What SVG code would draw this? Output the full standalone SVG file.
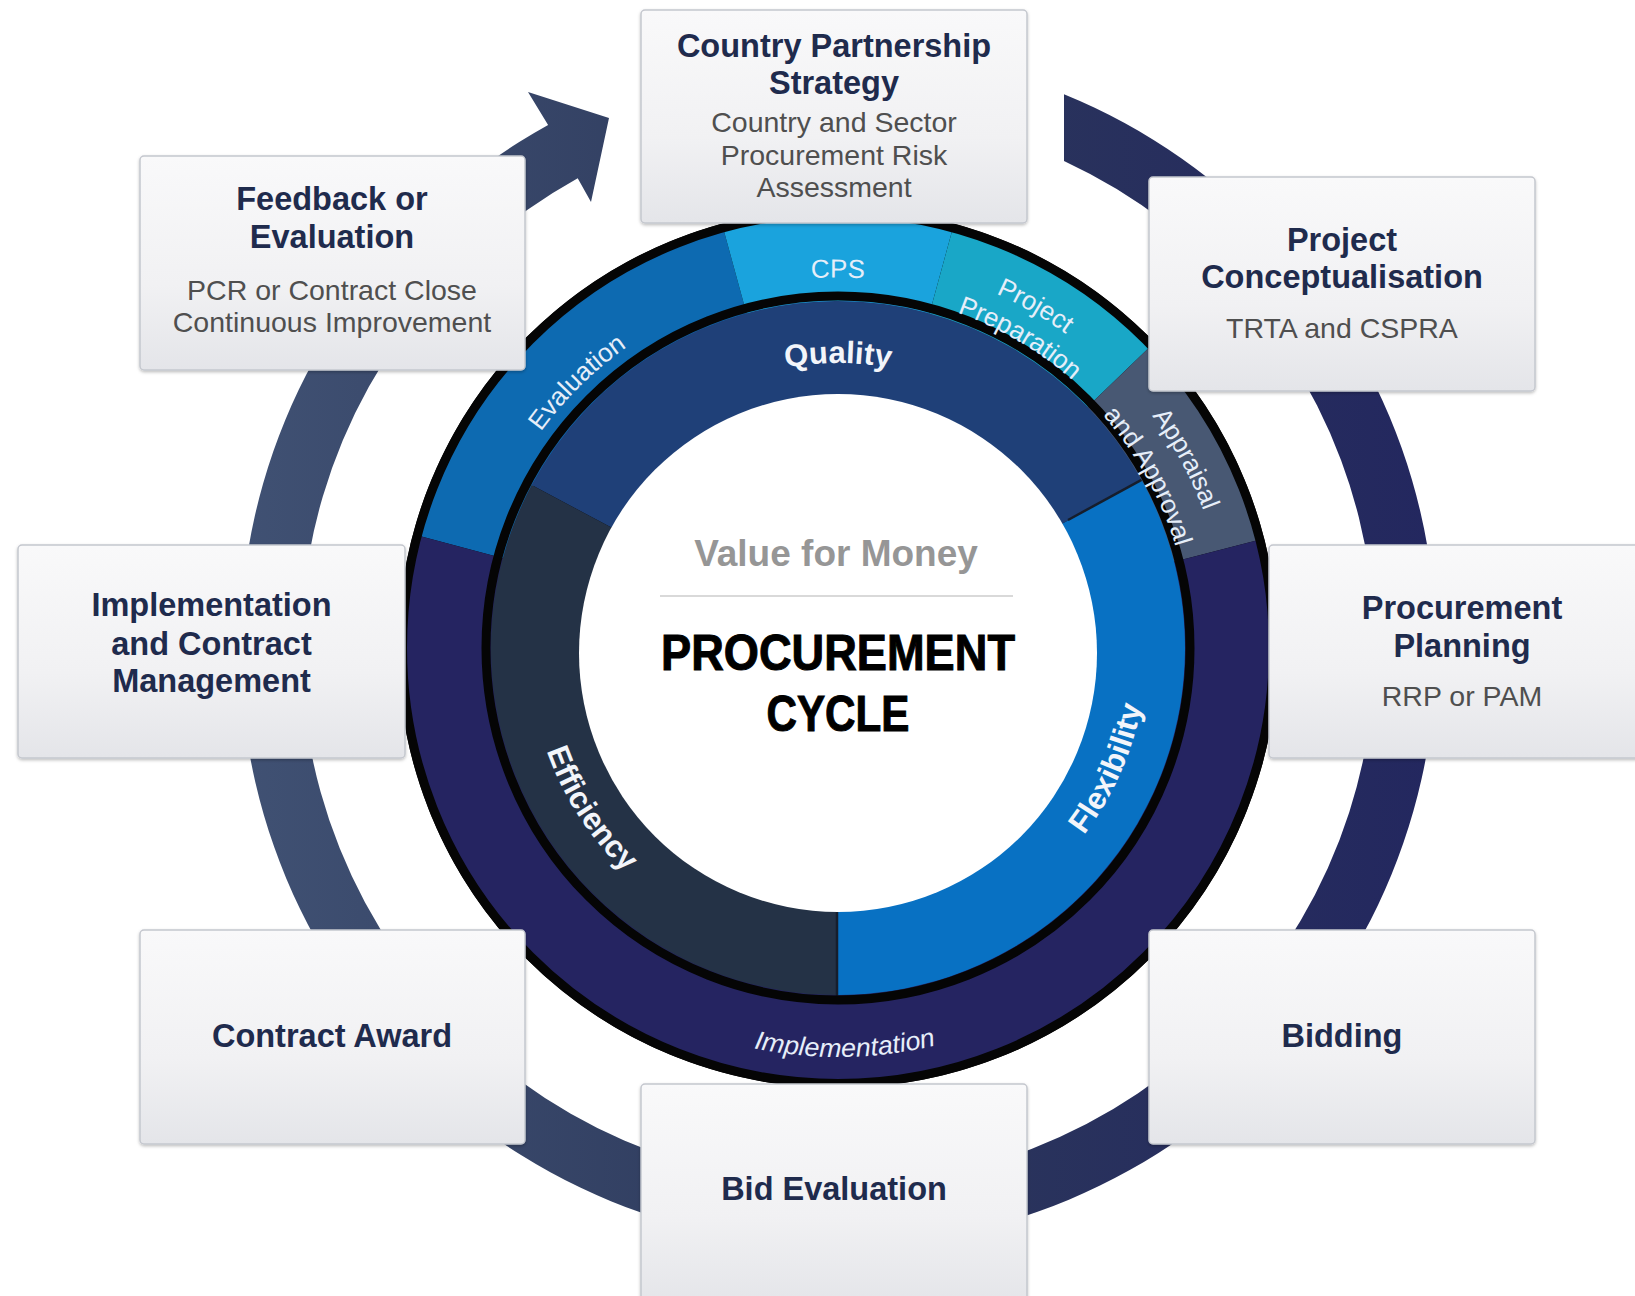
<svg xmlns="http://www.w3.org/2000/svg" width="1635" height="1296" viewBox="0 0 1635 1296">
<defs>
<linearGradient id="ringGrad" gradientUnits="userSpaceOnUse" x1="1440" y1="0" x2="240" y2="0">
<stop offset="0" stop-color="#23275f"/>
<stop offset="0.5" stop-color="#2c385b"/>
<stop offset="1" stop-color="#405173"/>
</linearGradient>
<linearGradient id="boxGrad" x1="0" y1="0" x2="0" y2="1">
<stop offset="0" stop-color="#f9f9fa"/>
<stop offset="0.6" stop-color="#f1f1f3"/>
<stop offset="1" stop-color="#e4e5e9"/>
</linearGradient>
<filter id="shadow" x="-5%" y="-5%" width="110%" height="115%">
<feDropShadow dx="0" dy="1.5" stdDeviation="1.5" flood-color="#000" flood-opacity="0.25"/>
</filter>
<path id="pCPS" d="M517.1,462.75 A370.5,370.5 0 0 1 1158.9,462.75"/>
<path id="pEval" d="M482.2,740 A367.5,367.5 0 0 1 936.2,293.9"/>
<path id="pProj" d="M644,312 A388,388 0 0 1 1226,648"/>
<path id="pPrep" d="M662.2,338.5 A356,356 0 0 1 1194,650.5"/>
<path id="pAppr" d="M848.2,257.6 A390.5,390.5 0 0 1 1170.9,852"/>
<path id="pAndA" d="M844.2,295.6 A352.5,352.5 0 0 1 1140.2,829.5"/>
<path id="pQual" d="M591.2,505.5 A285,285 0 0 1 1084.8,505.5"/>
<path id="pEff" d="M562.7,507.7 A309,309 0 0 0 854.2,956.6"/>
<path id="pFlex" d="M870.3,955.3 A309,309 0 0 0 1088,466.4"/>
<path id="pImpl" d="M487.4,858.6 A409,409 0 0 0 1195.7,846.3"/>
</defs>
<style>
.box { fill:url(#boxGrad); stroke:#c4c7ce; stroke-width:1.5; filter:url(#shadow); }
.title { font-family:"Liberation Sans", Arial, sans-serif; font-weight:bold; font-size:32.5px; fill:#1f2b4d; text-anchor:middle; }
.sub { font-family:"Liberation Sans", Arial, sans-serif; font-size:28.5px; fill:#4f4f4f; text-anchor:middle; }
.seg { font-family:"Liberation Sans", Arial, sans-serif; font-size:26px; fill:#e6eef9; text-anchor:middle; }
.pillar { font-family:"Liberation Sans", Arial, sans-serif; font-weight:bold; font-size:31px; fill:#f2f5fa; text-anchor:middle; }
.sep { stroke:#161e2c; stroke-width:2.5; }
</style>
<rect width="1635" height="1296" fill="#ffffff"/>

<g id="connectors">
<path id="cycle-arrow" fill="url(#ringGrad)" d="M1064,94.3 A598,598 0 1 1 548.1,125 L528,92 L609,118 L591,202 L577.7,178.3 A537,537 0 1 0 1064,160.9 Z"/>
</g>

<g id="wheel">
<circle cx="838" cy="648" r="440" fill="#050505"/>
<path id="seg-evaluation" fill="#0d6ab1" d="M722.7,226.5 A437,437 0 0 0 415.9,534.9 L504.8,558.7 A345,345 0 0 1 747,315.2 Z"/>
<path id="seg-cps" fill="#1aa3dd" d="M953.3,226.5 A437,437 0 0 0 722.7,226.5 L747,315.2 A345,345 0 0 1 929,315.2 Z"/>
<path id="seg-prep" fill="#19a7c7" d="M1152.3,344.4 A437,437 0 0 0 953.3,226.5 L929,315.2 A345,345 0 0 1 1086.2,408.3 Z"/>
<path id="seg-appr" fill="#485873" d="M1261.3,539.3 A437,437 0 0 0 1152.3,344.4 L1086.2,408.3 A345,345 0 0 1 1172.2,562.2 Z"/>
<path id="seg-impl" fill="#252461" d="M415.9,534.9 A437,437 0 1 0 1261.3,539.3 L1172.2,562.2 A345,345 0 1 1 504.8,558.7 Z"/>
<path id="seg-quality" fill="#1f4078" d="M838,648 L1141.5,479.8 A347,347 0 0 0 531.6,485.1 Z"/>
<path id="seg-efficiency" fill="#243246" d="M838,648 L531.6,485.1 A347,347 0 0 0 838,995 Z"/>
<path id="seg-flexibility" fill="#0871c3" d="M838,648 L838,995 A347,347 0 0 0 1141.5,479.8 Z"/>
<line class="sep" x1="1068" y1="520" x2="1141.5" y2="479.8"/>
<line class="sep" x1="837" y1="908" x2="837" y2="998"/>
<circle cx="838" cy="653" r="259" fill="#ffffff"/>
<circle cx="838" cy="648" r="435.5" fill="none" stroke="#050505" stroke-width="9"/>
<circle cx="838" cy="648" r="352" fill="none" stroke="#050505" stroke-width="9"/>

<text class="seg"><textPath href="#pCPS" startOffset="50%">CPS</textPath></text>
<text class="seg"><textPath href="#pEval" startOffset="50%">Evaluation</textPath></text>
<text class="seg"><textPath href="#pProj" startOffset="50%">Project</textPath></text>
<text class="seg"><textPath href="#pPrep" startOffset="50%">Preparation</textPath></text>
<text class="seg"><textPath href="#pAppr" startOffset="50%">Appraisal</textPath></text>
<text class="seg"><textPath href="#pAndA" startOffset="50%">and Approval</textPath></text>
<text class="seg" font-size="27" font-style="italic" fill="#dcdcf2"><textPath href="#pImpl" startOffset="50%" textLength="184" lengthAdjust="spacingAndGlyphs">Implementation</textPath></text>
<text class="pillar"><textPath href="#pQual" startOffset="50%">Quality</textPath></text>
<text class="pillar"><textPath href="#pEff" startOffset="50%">Efficiency</textPath></text>
<text class="pillar"><textPath href="#pFlex" startOffset="50%">Flexibility</textPath></text>

<text x="836" y="566" font-family="'Liberation Sans', Arial, sans-serif" font-weight="bold" font-size="37" fill="#969696" text-anchor="middle">Value for Money</text>
<line x1="660" y1="596" x2="1013" y2="596" stroke="#d9d9d9" stroke-width="2"/>
<text x="838" y="670" font-family="'Liberation Sans', Arial, sans-serif" font-weight="bold" font-size="50" fill="#000" stroke="#000" stroke-width="1" text-anchor="middle" textLength="354" lengthAdjust="spacingAndGlyphs">PROCUREMENT</text>
<text x="838" y="731" font-family="'Liberation Sans', Arial, sans-serif" font-weight="bold" font-size="50" fill="#000" stroke="#000" stroke-width="1" text-anchor="middle" textLength="143" lengthAdjust="spacingAndGlyphs">CYCLE</text>
</g>

<g id="node-cps">
<rect class="box" x="641" y="10" width="386" height="213" rx="4"/>
<text class="title" x="834" y="57">Country Partnership</text>
<text class="title" x="834" y="94">Strategy</text>
<text class="sub" x="834" y="132">Country and Sector</text>
<text class="sub" x="834" y="165">Procurement Risk</text>
<text class="sub" x="834" y="197">Assessment</text>
</g>
<g id="node-feedback">
<rect class="box" x="140" y="156" width="385" height="214" rx="4"/>
<text class="title" x="332" y="210">Feedback or</text>
<text class="title" x="332" y="248">Evaluation</text>
<text class="sub" x="332" y="300">PCR or Contract Close</text>
<text class="sub" x="332" y="332">Continuous Improvement</text>
</g>
<g id="node-conceptualisation">
<rect class="box" x="1149" y="177" width="386" height="214" rx="4"/>
<text class="title" x="1342" y="251">Project</text>
<text class="title" x="1342" y="288">Conceptualisation</text>
<text class="sub" x="1342" y="338">TRTA and CSPRA</text>
</g>
<g id="node-implementation">
<rect class="box" x="18" y="545" width="387" height="213" rx="4"/>
<text class="title" x="211.5" y="616">Implementation</text>
<text class="title" x="211.5" y="655">and Contract</text>
<text class="title" x="211.5" y="692">Management</text>
</g>
<g id="node-planning">
<rect class="box" x="1269" y="545" width="386" height="213" rx="4"/>
<text class="title" x="1462" y="619">Procurement</text>
<text class="title" x="1462" y="657">Planning</text>
<text class="sub" x="1462" y="706">RRP or PAM</text>
</g>
<g id="node-award">
<rect class="box" x="140" y="930" width="385" height="214" rx="4"/>
<text class="title" x="332" y="1047">Contract Award</text>
</g>
<g id="node-bidding">
<rect class="box" x="1149" y="930" width="386" height="214" rx="4"/>
<text class="title" x="1342" y="1047">Bidding</text>
</g>
<g id="node-bid-evaluation">
<rect class="box" x="641" y="1084" width="386" height="220" rx="4"/>
<text class="title" x="834" y="1200">Bid Evaluation</text>
</g>
</svg>
